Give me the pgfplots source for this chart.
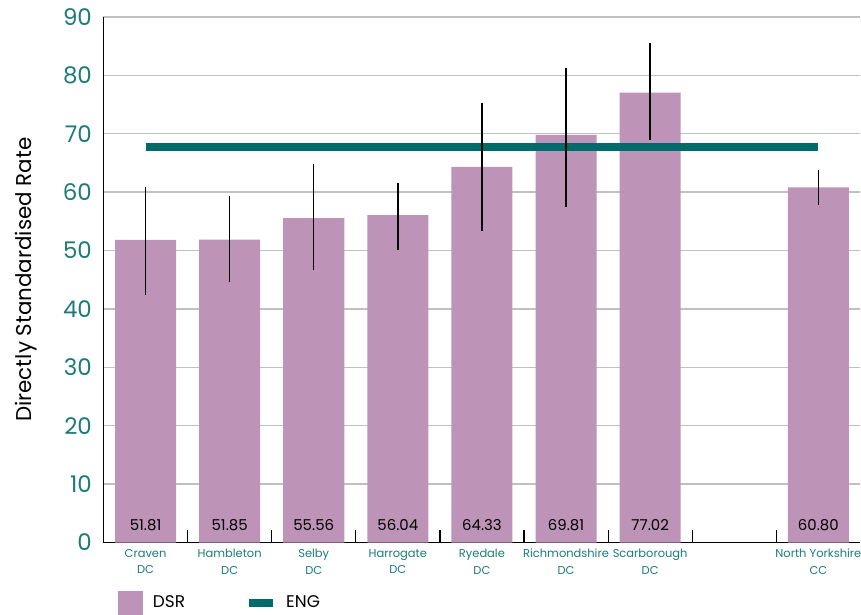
\documentclass[border=0pt]{standalone}
\usepackage{fontspec}
\setmainfont{Poppins}
\usepackage{pgfplots}
\usepackage{pgfplotstable}
\pgfplotsset{compat=1.18}
\definecolor{dsr}{RGB}{189,147,183}
\definecolor{eng}{RGB}{0,107,107}
\definecolor{lab}{RGB}{28,122,122}
\definecolor{gridc}{RGB}{192,192,192}

% x, rate, upper and lower error
\pgfplotstableread{
x y ep em
0 51.81 9.09 9.51
1 51.85 7.55 7.25
2 55.56 9.24 8.86
3 56.04 5.46 5.94
4 64.33 10.97 10.93
5 69.81 11.39 12.31
6 77.02 8.58 8.12
8 60.80 3.00 3.00
}\dsrdata

\begin{document}
\begin{tikzpicture}
\begin{axis}[
  x=84.1bp, y=5.84bp,
  xmin=-0.5, xmax=8.5, ymin=0, ymax=90,
  clip=false,
  axis x line=bottom, axis y line=left,
  axis line style={-, black, line width=1.5bp},
  ytick={0,10,...,90},
  ymajorgrids, grid style={gridc, line width=1.3bp},
  major y tick style={draw=none},
  yticklabel style={text=lab, font=\fontsize{23}{26}\selectfont, xshift=-6bp},
  /pgf/number format/assume math mode=true,
  ylabel={Directly Standardised Rate},
  ylabel style={font=\fontsize{21.5}{24}\selectfont, text=black, yshift=19bp},
  xtick={0,...,8},
  xticklabels={{Craven\\DC},{Hambleton\\DC},{Selby\\DC},{Harrogate\\DC},{Ryedale\\DC},{Richmondshire\\DC},{Scarborough\\DC},{},{North Yorkshire\\CC}},
  xticklabel style={text=lab, align=center, font=\fontsize{11.5}{16.5}\selectfont, yshift=-1bp},
  major x tick style={draw=none},
  extra x ticks={0.5,1.5,...,7.5},
  extra x tick labels={},
  extra x tick style={major tick length=12bp, tick align=inside,
    major x tick style={draw=black, line width=1.2bp}},
  legend columns=2,
  legend style={at={(axis cs:-0.33,-8.2)}, anchor=north west, draw=none,
    inner sep=0pt, font=\fontsize{17}{20}\selectfont,
    /tikz/every even column/.append style={column sep=58bp}},
]
\addplot[ybar, bar width=61bp, bar shift=0pt, fill=dsr, draw=none,
  legend image code/.code={\fill[dsr] (0bp,-12bp) rectangle (25bp,12bp); \path (33bp,0bp);}]
  table[x=x, y=y] {\dsrdata};
\addlegendentry{DSR}
\addplot[eng, line width=8bp, mark=none,
  legend image code/.code={\draw[eng, line width=8bp] (0bp,0bp) -- (24bp,0bp); \path (31bp,0bp);}]
  coordinates {(0,67.7) (8,67.7)};
\addlegendentry{ENG}
\addplot[draw=none, mark=none, forget plot,
  error bars/.cd, y dir=both, y explicit, error mark=none,
  error bar style={draw=black, line width=1.5bp}]
  table[x=x, y=y, y error plus=ep, y error minus=em] {\dsrdata};
\addplot[draw=none, mark=none, forget plot,
  nodes near coords, point meta=explicit,
  nodes near coords style={font=\fontsize{15}{17}\selectfont, text=black,
    anchor=center, /pgf/number format/.cd, fixed, fixed zerofill, precision=2}]
  table[x=x, y expr=3, meta=y] {\dsrdata};
\coordinate (o) at (axis cs:-0.5,0);
\end{axis}
\pgfresetboundingbox
\path[use as bounding box] ([xshift=-103.5bp,yshift=-72.5bp]o) rectangle ([xshift=757.5bp,yshift=542.5bp]o);
\end{tikzpicture}
\end{document}
